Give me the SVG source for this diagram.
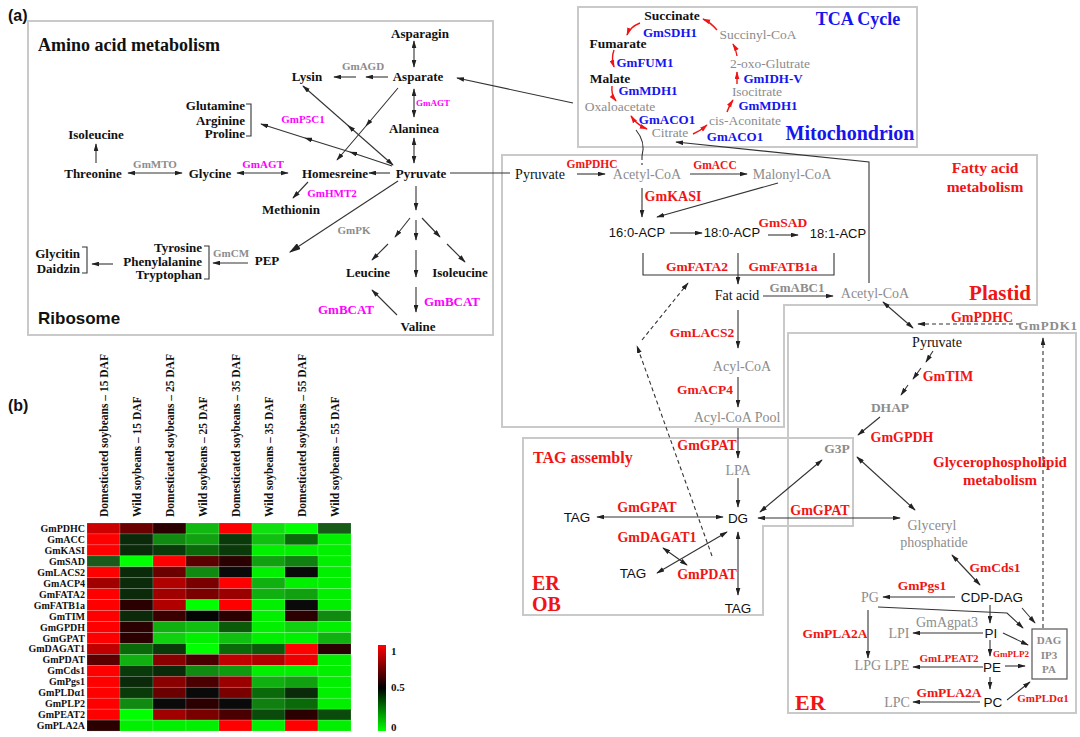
<svg xmlns="http://www.w3.org/2000/svg" width="1080" height="737" viewBox="0 0 1080 737">
<style>
.box{fill:none;stroke:#c9c9c9;stroke-width:2}
text{font-family:"Liberation Serif","Times New Roman",serif}
.sb{font-weight:bold}
.ss{font-family:"Liberation Sans",Arial,sans-serif}
.c{text-anchor:middle}
.e{text-anchor:end}
.k{fill:#111}
.g{fill:#8c8c8c}
.m{fill:#ff00ff}
.b{fill:#1515ee}
.r{fill:#f01414}
.f11{font-size:11px}.f9{font-size:9px}.f13{font-size:13px}.f135{font-size:13.5px}.f14{font-size:14px}
.ln{stroke:#333;stroke-width:1.1;fill:none}
.rl{stroke:#f01414;stroke-width:1.4;fill:none}
.ds{stroke-dasharray:4 3}
.hm rect{stroke:#ffffff;stroke-opacity:0.25;stroke-width:0.6}
.hl{font-weight:bold;font-size:10px;text-anchor:end;fill:#111}
.cl{font-weight:bold;font-size:11.5px;fill:#111}
</style>
<defs>
<marker id="ah" viewBox="0 0 10 6" refX="9" refY="3" markerWidth="8" markerHeight="5" markerUnits="userSpaceOnUse" orient="auto-start-reverse"><path d="M0,0L10,3L0,6z" fill="#222"/></marker>
<marker id="ahL" viewBox="0 0 10 6" refX="9" refY="3" markerWidth="12" markerHeight="7" markerUnits="userSpaceOnUse" orient="auto"><path d="M0,0L10,3L0,6z" fill="#222"/></marker>
<marker id="rh" viewBox="0 0 10 6" refX="9" refY="3" markerWidth="8" markerHeight="5" markerUnits="userSpaceOnUse" orient="auto-start-reverse"><path d="M0,0L10,3L0,6z" fill="#f01414"/></marker>
<linearGradient id="cb" x1="0" y1="0" x2="0" y2="1"><stop offset="0" stop-color="#ff0000"/><stop offset="0.5" stop-color="#000000"/><stop offset="1" stop-color="#00ff00"/></linearGradient>
</defs>
<rect width="1080" height="737" fill="#ffffff"/>

<g id="compartments">
<rect class="box" x="28" y="21" width="465" height="314"/>
<rect class="box" x="578" y="7" width="339" height="140"/>
<polygon class="box" points="502,155 1037,155 1037,305 784,305 784,427 502,427"/>
<rect class="box" x="788" y="333" width="288" height="380"/>
<polygon class="box" points="523,438 853,438 853,526 763,526 763,615 523,615"/>
</g>

<g id="titles">
<text x="8" y="21" class="ss sb" font-size="16" fill="#111">(a)</text>
<text x="8" y="411" class="ss sb" font-size="16" fill="#111">(b)</text>
<text x="38" y="51" class="sb k" font-size="18">Amino acid metabolism</text>
<text x="38" y="324" class="ss sb k" font-size="17">Ribosome</text>
<text x="858" y="25" class="sb b c" font-size="18">TCA Cycle</text>
<text x="850" y="140" class="sb b c" font-size="20">Mitochondrion</text>
<text x="985" y="173" class="sb r c" font-size="15.5">Fatty acid</text>
<text x="985" y="192" class="sb r c" font-size="15.5">metabolism</text>
<text x="1000" y="300" class="sb r c" font-size="21">Plastid</text>
<text x="533" y="463" class="sb r" font-size="16">TAG assembly</text>
<text x="532" y="590" class="sb r" font-size="20">ER</text>
<text x="532" y="611" class="sb r" font-size="20">OB</text>
<text x="1000" y="467" class="sb r c" font-size="15">Glycerophospholipid</text>
<text x="1000" y="485" class="sb r c" font-size="15">metabolism</text>
<text x="795" y="710" class="sb r" font-size="22">ER</text>
</g>

<g id="connectors">
<!-- amino acid -->
<path class="ln" d="M388,77L366,77" marker-end="url(#ah)"/>
<path class="ln" d="M356,77L334,77" marker-end="url(#ah)"/>
<path class="ln" d="M414,41L414,67" marker-start="url(#ah)" marker-end="url(#ah)"/>
<path class="ln" d="M414,89L414,117" marker-start="url(#ah)" marker-end="url(#ah)"/>
<path class="ln" d="M414,138L414,163" marker-start="url(#ah)" marker-end="url(#ah)"/>
<polyline class="ln" points="393,165 348,125.5 303,86" marker-start="url(#ah)" marker-mid="url(#ah)" marker-end="url(#ah)"/>
<polyline class="ln" points="398,88 366,126 337,160" marker-mid="url(#ah)" marker-end="url(#ah)"/>
<polyline class="ln" points="392,166 350,152 305,138 261,124" marker-mid="url(#ah)" marker-end="url(#ah)"/>
<path class="ln" d="M96,163L96,144" marker-end="url(#ah)"/>
<path class="ln" d="M128,173L182,173" marker-start="url(#ah)" marker-end="url(#ah)"/>
<path class="ln" d="M237,173L288,173" marker-start="url(#ah)" marker-end="url(#ah)"/>
<path class="ln" d="M390,173L369,173" marker-end="url(#ah)"/>
<path class="ln" d="M308,182L293,198" marker-end="url(#ah)"/>
<path class="ln" d="M398,181L290,252" marker-end="url(#ahL)"/>
<path class="ln" d="M248,263L213,263" marker-end="url(#ah)"/>
<path class="ln" d="M113,264L92,264" marker-end="url(#ah)"/>
<path class="ln" d="M246,104L251,104L251,136L246,136"/>
<path class="ln" d="M204,246L209,246L209,279L204,279"/>
<path class="ln" d="M82,247L87,247L87,273L82,273"/>
<path class="ln" d="M416,186L416,210" marker-end="url(#ah)"/>
<path class="ln" d="M410,218L395,237" marker-end="url(#ah)"/>
<path class="ln" d="M388,244L372,260" marker-end="url(#ah)"/>
<path class="ln" d="M416,220L416,240" marker-end="url(#ah)"/>
<path class="ln" d="M416,250L416,277" marker-end="url(#ah)"/>
<path class="ln" d="M416,287L416,312" marker-end="url(#ah)"/>
<path class="ln" d="M422,218L440,237" marker-end="url(#ah)"/>
<path class="ln" d="M447,244L465,262" marker-end="url(#ah)"/>
<path class="ln" d="M397,315L372,290" marker-end="url(#ah)"/>
<path class="ln" d="M573,103L457,78" marker-end="url(#ah)"/>
<path class="ln" d="M450,173L510,173"/>
<!-- TCA -->
<path class="rl" d="M640,23Q630,27 627,35" marker-end="url(#rh)"/>
<path class="rl" d="M717,30Q710,22 703,19" marker-end="url(#rh)"/>
<path class="rl" d="M614,50Q611,58 614,67" marker-end="url(#rh)"/>
<path class="rl" d="M737,56Q736,49 733,44" marker-end="url(#rh)"/>
<path class="rl" d="M612,86Q611,95 616,101" marker-end="url(#rh)"/>
<path class="rl" d="M737,84L737,72" marker-end="url(#rh)"/>
<path class="rl" d="M727,112Q729,106 733,100" marker-end="url(#rh)"/>
<path class="rl" d="M693,134Q700,131 707,125" marker-end="url(#rh)"/>
<path class="rl" d="M631,116Q637,125 647,129" marker-start="url(#rh)" marker-end="url(#rh)"/>
<path class="ln" d="M636,130Q646,142 642,156"/>
<path class="ln ds" d="M642,156L642,165"/>
<path class="ln" d="M869,283L869,162L676,142" marker-end="url(#ah)"/>
<!-- fatty acid -->
<path class="ln" d="M577,174L605,174" marker-end="url(#ah)"/>
<path class="ln" d="M690,174L747,174" marker-end="url(#ah)"/>
<path class="ln" d="M642,188L642,217" marker-end="url(#ah)"/>
<path class="ln" d="M778,183L657,217" marker-end="url(#ah)"/>
<path class="ln" d="M670,233L702,233" marker-end="url(#ah)"/>
<path class="ln" d="M768,235L798,235" marker-end="url(#ah)"/>
<path class="ln" d="M643,253L643,275L834,275L834,253"/>
<path class="ln" d="M738,253L738,284" marker-end="url(#ah)"/>
<path class="ln" d="M763,296L833,296" marker-end="url(#ah)"/>
<path class="ln" d="M738,310L738,348" marker-end="url(#ah)"/>
<path class="ln" d="M738,377L738,407" marker-end="url(#ah)"/>
<path class="ln ds" d="M712,556L637,346" marker-end="url(#ah)"/>
<path class="ln ds" d="M642,340L688,283" marker-end="url(#ah)"/>
<path class="ln" d="M738,428L738,458" marker-end="url(#ah)"/>
<!-- right -->
<path class="ln" d="M883,302L913,328" marker-start="url(#ah)" marker-end="url(#ah)"/>
<path class="ln ds" d="M1020,324L918,324" marker-end="url(#ah)"/>
<path class="ln ds" d="M1043,628L1043,338" marker-end="url(#ah)"/>
<path class="ln" d="M933,351L926,362" marker-end="url(#ah)"/>
<path class="ln" d="M921,368L913,379" marker-end="url(#ah)"/>
<path class="ln" d="M908,385L901,395" marker-end="url(#ah)"/>
<path class="ln" d="M880,417L858,435" marker-end="url(#ah)"/>
<path class="ln" d="M822,460L760,512" marker-start="url(#ah)" marker-end="url(#ah)"/>
<path class="ln" d="M857,457L915,510" marker-start="url(#ah)" marker-end="url(#ah)"/>
<path class="ln" d="M758,518L900,518" marker-start="url(#ah)" marker-end="url(#ah)"/>
<!-- TAG -->
<path class="ln" d="M738,478L738,507" marker-end="url(#ah)"/>
<path class="ln" d="M597,517L723,517" marker-start="url(#ah)" marker-end="url(#ah)"/>
<path class="ln" d="M727,532L657,573" marker-start="url(#ah)" marker-end="url(#ah)"/>
<path class="ln" d="M663,548L687,565" marker-start="url(#ah)" marker-end="url(#ah)"/>
<path class="ln" d="M738,532L738,595" marker-start="url(#ah)" marker-end="url(#ah)"/>
<!-- glycerophospholipid -->
<path class="ln" d="M952,555L980,585" marker-start="url(#ah)" marker-end="url(#ah)"/>
<path class="ln" d="M955,597L883,597" marker-end="url(#ah)"/>
<path class="ln" d="M878,607L1007,613L1023,628" marker-end="url(#ah)"/>
<path class="ln" d="M1022,608L1035,623" marker-end="url(#ah)"/>
<path class="ln" d="M990,605L990,623" marker-end="url(#ah)"/>
<path class="ln" d="M983,633L913,633" marker-end="url(#ah)"/>
<path class="ln" d="M868,610L868,658" marker-end="url(#ah)"/>
<path class="ln" d="M1003,633L1028,645" marker-end="url(#ah)"/>
<path class="ln" d="M990,640L990,656" marker-end="url(#ah)"/>
<path class="ln" d="M983,667L913,667" marker-end="url(#ah)"/>
<path class="ln" d="M1005,666L1025,666" marker-end="url(#ah)"/>
<path class="ln" d="M990,677L990,689" marker-end="url(#ah)"/>
<path class="ln" d="M980,702L913,702" marker-end="url(#ah)"/>
<path class="ln" d="M1007,700L1030,682" marker-end="url(#ah)"/>
</g>

<g id="amino-nodes" class="sb k f13 c">
<g id="n-asparagin"><text x="420" y="38">Asparagin</text></g>
<g id="n-asparate"><text x="418" y="81">Asparate</text></g>
<g id="n-lysin"><text x="307" y="81">Lysin</text></g>
<g id="n-alaninea"><text x="414" y="133">Alaninea</text></g>
<g id="n-pyruvate-aa"><text x="421" y="178">Pyruvate</text></g>
<g id="n-glu-arg-pro" class="e"><text x="245" y="110">Glutamine</text><text x="245" y="125">Arginine</text><text x="245" y="138">Proline</text></g>
<g id="n-isoleucine1"><text x="96" y="139">Isoleucine</text></g>
<g id="n-threonine"><text x="93" y="178">Threonine</text></g>
<g id="n-glycine"><text x="210" y="178">Glycine</text></g>
<g id="n-homesreine"><text x="335" y="178">Homesreine</text></g>
<g id="n-methionin"><text x="291" y="214">Methionin</text></g>
<g id="n-pep"><text x="267" y="265">PEP</text></g>
<g id="n-aromatic" class="e"><text x="202" y="252">Tyrosine</text><text x="202" y="266">Phenylalanine</text><text x="202" y="279">Tryptophan</text></g>
<g id="n-isoflavone" class="e"><text x="80" y="258">Glycitin</text><text x="80" y="273">Daidzin</text></g>
<g id="n-leucine"><text x="368" y="277">Leucine</text></g>
<g id="n-isoleucine2"><text x="460" y="277">Isoleucine</text></g>
<g id="n-valine"><text x="418" y="331">Valine</text></g>
</g>
<g id="amino-genes" class="sb c">
<g id="e-gmagd"><text x="363" y="70" class="g f11">GmAGD</text></g>
<g id="e-gmagt1"><text x="433" y="106" class="m f9">GmAGT</text></g>
<g id="e-gmp5c1"><text x="303" y="123" class="m f11">GmP5C1</text></g>
<g id="e-gmmto"><text x="155" y="168" class="g f11">GmMTO</text></g>
<g id="e-gmagt2"><text x="263" y="168" class="m f11">GmAGT</text></g>
<g id="e-gmhmt2"><text x="332" y="197" class="m f11">GmHMT2</text></g>
<g id="e-gmpk"><text x="354" y="234" class="g f11">GmPK</text></g>
<g id="e-gmcm"><text x="231" y="257" class="g f11">GmCM</text></g>
<g id="e-gmbcat1"><text x="452" y="306" class="m f13">GmBCAT</text></g>
<g id="e-gmbcat2"><text x="346" y="314" class="m f13">GmBCAT</text></g>
</g>

<g id="tca-nodes" class="c">
<g id="n-succinate"><text x="672" y="20" class="sb k f135">Succinate</text></g>
<g id="n-succinylcoa"><text x="758" y="39" class="g f135">Succinyl-CoA</text></g>
<g id="n-fumarate"><text x="618" y="48" class="sb k f135">Fumarate</text></g>
<g id="n-oxoglutrate"><text x="770" y="68" class="g f135">2-oxo-Glutrate</text></g>
<g id="n-malate"><text x="610" y="83" class="sb k f135">Malate</text></g>
<g id="n-isocitrate"><text x="757" y="96" class="g f135">Isocitrate</text></g>
<g id="n-oxaloacetate"><text x="620" y="111" class="g f135">Oxaloacetate</text></g>
<g id="n-cisaconitate"><text x="745" y="125" class="g f135">cis-Aconitate</text></g>
<g id="n-citrate"><text x="670" y="137" class="g f135">Citrate</text></g>
<g id="e-gmsdh1"><text x="670" y="37" class="sb b f13">GmSDH1</text></g>
<g id="e-gmfum1"><text x="645" y="67" class="sb b f13">GmFUM1</text></g>
<g id="e-gmidhv"><text x="773" y="83" class="sb b f13">GmIDH-V</text></g>
<g id="e-gmmdh1a"><text x="648" y="95" class="sb b f13">GmMDH1</text></g>
<g id="e-gmmdh1b"><text x="768" y="110" class="sb b f13">GmMDH1</text></g>
<g id="e-gmaco1a"><text x="667" y="124" class="sb b f13">GmACO1</text></g>
<g id="e-gmaco1b"><text x="735" y="141" class="sb b f13">GmACO1</text></g>
</g>

<g id="fatty-nodes" class="c">
<g id="n-pyruvate-pl"><text x="540" y="179" class="k f14">Pyruvate</text></g>
<g id="n-acetylcoa1"><text x="647" y="179" class="g f14">Acetyl-CoA</text></g>
<g id="n-malonylcoa"><text x="792" y="179" class="g f14">Malonyl-CoA</text></g>
<g id="n-160acp"><text x="637" y="237" class="ss k f13">16:0-ACP</text></g>
<g id="n-180acp"><text x="732" y="237" class="ss k f13">18:0-ACP</text></g>
<g id="n-181acp"><text x="838" y="238" class="ss k f13">18:1-ACP</text></g>
<g id="n-fatacid"><text x="737" y="300" class="k f14">Fat acid</text></g>
<g id="n-acetylcoa2"><text x="875" y="298" class="g f14">Acetyl-CoA</text></g>
<g id="n-acylcoa"><text x="742" y="371" class="g f14">Acyl-CoA</text></g>
<g id="n-acylcoapool"><text x="737" y="422" class="g f14">Acyl-CoA Pool</text></g>
<g id="e-gmpdhc1"><text x="592" y="168" class="sb r" font-size="11.5">GmPDHC</text></g>
<g id="e-gmacc"><text x="715" y="169" class="sb r" font-size="11.5">GmACC</text></g>
<g id="e-gmkasi"><text x="673" y="201" class="sb r f14">GmKASI</text></g>
<g id="e-gmsad"><text x="783" y="227" class="sb r f135">GmSAD</text></g>
<g id="e-gmfata2"><text x="697" y="271" class="sb r f135">GmFATA2</text></g>
<g id="e-gmfatb1a"><text x="783" y="271" class="sb r f135">GmFATB1a</text></g>
<g id="e-gmabc1"><text x="797" y="292" class="sb g f13">GmABC1</text></g>
<g id="e-gmlacs2"><text x="702" y="337" class="sb r f135">GmLACS2</text></g>
<g id="e-gmacp4"><text x="705" y="394" class="sb r f135">GmACP4</text></g>
</g>

<g id="glycolysis-nodes" class="c">
<g id="n-pyruvate-er"><text x="937" y="347" class="k f14">Pyruvate</text></g>
<g id="n-dhap"><text x="890" y="412" class="sb g f135">DHAP</text></g>
<g id="n-g3p"><text x="837" y="453" class="sb g f135">G3P</text></g>
<g id="e-gmpdhc2"><text x="982" y="322" class="sb r f14">GmPDHC</text></g>
<g id="e-gmpdk1"><text x="1048" y="330" class="sb g f13" letter-spacing="0.8">GmPDK1</text></g>
<g id="e-gmtim"><text x="948" y="381" class="sb r f14">GmTIM</text></g>
<g id="e-gmgpdh"><text x="902" y="442" class="sb r f14">GmGPDH</text></g>
<g id="e-gmgpat3"><text x="820" y="515" class="sb r f14">GmGPAT</text></g>
</g>

<g id="tag-nodes" class="c">
<g id="n-lpa"><text x="738" y="475" class="g f14">LPA</text></g>
<g id="n-dg"><text x="738" y="523" class="ss k f135">DG</text></g>
<g id="n-tag1"><text x="577" y="522" class="ss k f135">TAG</text></g>
<g id="n-tag2"><text x="633" y="578" class="ss k f135">TAG</text></g>
<g id="n-tag3"><text x="738" y="613" class="ss k f135">TAG</text></g>
<g id="e-gmgpat1"><text x="707" y="450" class="sb r f14">GmGPAT</text></g>
<g id="e-gmgpat2"><text x="647" y="512" class="sb r f14">GmGPAT</text></g>
<g id="e-gmdagat1"><text x="657" y="542" class="sb r f14">GmDAGAT1</text></g>
<g id="e-gmpdat"><text x="707" y="579" class="sb r f14">GmPDAT</text></g>
</g>

<g id="phospholipid-nodes" class="c">
<g id="n-glyceryl"><text x="932" y="530" class="g f14">Glyceryl</text><text x="934" y="547" class="g f14">phosphatide</text></g>
<g id="n-cdpdag"><text x="992" y="602" class="ss k f135">CDP-DAG</text></g>
<g id="n-pg"><text x="870" y="602" class="g f14">PG</text></g>
<g id="n-pi"><text x="991" y="638" class="ss k f135">PI</text></g>
<g id="n-lpi"><text x="899" y="638" class="g f14">LPI</text></g>
<g id="n-lpglpe"><text x="882" y="670" class="g f14">LPG LPE</text></g>
<g id="n-pe"><text x="992" y="672" class="ss k f135">PE</text></g>
<g id="n-pc"><text x="993" y="707" class="ss k f135">PC</text></g>
<g id="n-lpc"><text x="897" y="707" class="g f14">LPC</text></g>
<g id="n-dagbox"><rect x="1032" y="629" width="35" height="50" fill="none" stroke="#555" stroke-width="1.2"/><text x="1049" y="644" class="sb g f11">DAG</text><text x="1049" y="659" class="sb g f11">IP3</text><text x="1049" y="673" class="sb g f11">PA</text></g>
<g id="e-gmcds1"><text x="995" y="572" class="sb r f135">GmCds1</text></g>
<g id="e-gmpgs1"><text x="922" y="590" class="sb r f135">GmPgs1</text></g>
<g id="e-gmagpat3"><text x="947" y="627" class="g f14">GmAgpat3</text></g>
<g id="e-gmpla2a1"><text x="835" y="638" class="sb r f135">GmPLA2A</text></g>
<g id="e-gmplp2"><text x="1011" y="657" class="sb r f9">GmPLP2</text></g>
<g id="e-gmlpeat2"><text x="949" y="662" class="sb r f11">GmLPEAT2</text></g>
<g id="e-gmpla2a2"><text x="949" y="697" class="sb r f135">GmPLA2A</text></g>
<g id="e-gmplda1"><text x="1043" y="702" class="sb r f11">GmPLDα1</text></g>
</g>

<g id="heatmap">
<g id="col-labels" class="cl">
<text transform="translate(107.5,517) rotate(-90)">Domesticated soybeans – 15 DAF</text>
<text transform="translate(140.5,517) rotate(-90)">Wild soybeans – 15 DAF</text>
<text transform="translate(173.5,517) rotate(-90)">Domesticated soybeans – 25 DAF</text>
<text transform="translate(206.5,517) rotate(-90)">Wild soybeans – 25 DAF</text>
<text transform="translate(239.5,517) rotate(-90)">Domesticated soybeans – 35 DAF</text>
<text transform="translate(272.5,517) rotate(-90)">Wild soybeans – 35 DAF</text>
<text transform="translate(305.5,517) rotate(-90)">Domesticated soybeans – 55 DAF</text>
<text transform="translate(338.5,517) rotate(-90)">Wild soybeans – 55 DAF</text>
</g>
<g id="row-labels">
<text x="85" y="532" class="hl">GmPDHC</text>
<text x="85" y="543" class="hl">GmACC</text>
<text x="85" y="554" class="hl">GmKASI</text>
<text x="85" y="565" class="hl">GmSAD</text>
<text x="85" y="576" class="hl">GmLACS2</text>
<text x="85" y="587" class="hl">GmACP4</text>
<text x="85" y="598" class="hl">GmFATA2</text>
<text x="85" y="609" class="hl">GmFATB1a</text>
<text x="85" y="620" class="hl">GmTIM</text>
<text x="85" y="631" class="hl">GmGPDH</text>
<text x="85" y="642" class="hl">GmGPAT</text>
<text x="85" y="652" class="hl">GmDAGAT1</text>
<text x="85" y="663" class="hl">GmPDAT</text>
<text x="85" y="674" class="hl">GmCds1</text>
<text x="85" y="685" class="hl">GmPgs1</text>
<text x="85" y="696" class="hl">GmPLDα1</text>
<text x="85" y="707" class="hl">GmPLP2</text>
<text x="85" y="718" class="hl">GmPEAT2</text>
<text x="85" y="729" class="hl">GmPLA2A</text>
</g>
<g id="cells" class="hm">
<rect x="87" y="523" width="33" height="10.95" fill="#cc0000"/><rect x="120" y="523" width="33" height="10.95" fill="#6b0000"/><rect x="153" y="523" width="33" height="10.95" fill="#2a0000"/><rect x="186" y="523" width="33" height="10.95" fill="#12b812"/><rect x="219" y="523" width="33" height="10.95" fill="#ff0000"/><rect x="252" y="523" width="33" height="10.95" fill="#10e010"/><rect x="285" y="523" width="33" height="10.95" fill="#00ff00"/><rect x="318" y="523" width="33" height="10.95" fill="#185a18"/>
<rect x="87" y="533.95" width="33" height="10.95" fill="#ff0000"/><rect x="120" y="533.95" width="33" height="10.95" fill="#0a2a0a"/><rect x="153" y="533.95" width="33" height="10.95" fill="#108a10"/><rect x="186" y="533.95" width="33" height="10.95" fill="#10a010"/><rect x="219" y="533.95" width="33" height="10.95" fill="#0a3a0a"/><rect x="252" y="533.95" width="33" height="10.95" fill="#10c010"/><rect x="285" y="533.95" width="33" height="10.95" fill="#0a6a0a"/><rect x="318" y="533.95" width="33" height="10.95" fill="#00f000"/>
<rect x="87" y="544.9" width="33" height="10.95" fill="#ff0000"/><rect x="120" y="544.9" width="33" height="10.95" fill="#0a2a0a"/><rect x="153" y="544.9" width="33" height="10.95" fill="#0a3a0a"/><rect x="186" y="544.9" width="33" height="10.95" fill="#0a6a0a"/><rect x="219" y="544.9" width="33" height="10.95" fill="#0a3a0a"/><rect x="252" y="544.9" width="33" height="10.95" fill="#00f000"/><rect x="285" y="544.9" width="33" height="10.95" fill="#00f000"/><rect x="318" y="544.9" width="33" height="10.95" fill="#00f000"/>
<rect x="87" y="555.85" width="33" height="10.95" fill="#1a5a1a"/><rect x="120" y="555.85" width="33" height="10.95" fill="#00ff00"/><rect x="153" y="555.85" width="33" height="10.95" fill="#ff0000"/><rect x="186" y="555.85" width="33" height="10.95" fill="#5a0000"/><rect x="219" y="555.85" width="33" height="10.95" fill="#2a0000"/><rect x="252" y="555.85" width="33" height="10.95" fill="#10a010"/><rect x="285" y="555.85" width="33" height="10.95" fill="#108010"/><rect x="318" y="555.85" width="33" height="10.95" fill="#00f000"/>
<rect x="87" y="566.8" width="33" height="10.95" fill="#ff0000"/><rect x="120" y="566.8" width="33" height="10.95" fill="#0a2a0a"/><rect x="153" y="566.8" width="33" height="10.95" fill="#6b0000"/><rect x="186" y="566.8" width="33" height="10.95" fill="#108a10"/><rect x="219" y="566.8" width="33" height="10.95" fill="#0a0a0a"/><rect x="252" y="566.8" width="33" height="10.95" fill="#00f000"/><rect x="285" y="566.8" width="33" height="10.95" fill="#0a0a0a"/><rect x="318" y="566.8" width="33" height="10.95" fill="#00f000"/>
<rect x="87" y="577.75" width="33" height="10.95" fill="#a00000"/><rect x="120" y="577.75" width="33" height="10.95" fill="#0a2a0a"/><rect x="153" y="577.75" width="33" height="10.95" fill="#b00000"/><rect x="186" y="577.75" width="33" height="10.95" fill="#7a0000"/><rect x="219" y="577.75" width="33" height="10.95" fill="#ff0000"/><rect x="252" y="577.75" width="33" height="10.95" fill="#10b010"/><rect x="285" y="577.75" width="33" height="10.95" fill="#00f000"/><rect x="318" y="577.75" width="33" height="10.95" fill="#00f000"/>
<rect x="87" y="588.7" width="33" height="10.95" fill="#ff0000"/><rect x="120" y="588.7" width="33" height="10.95" fill="#0a2a0a"/><rect x="153" y="588.7" width="33" height="10.95" fill="#a00000"/><rect x="186" y="588.7" width="33" height="10.95" fill="#7a0000"/><rect x="219" y="588.7" width="33" height="10.95" fill="#9a0000"/><rect x="252" y="588.7" width="33" height="10.95" fill="#10b010"/><rect x="285" y="588.7" width="33" height="10.95" fill="#10a010"/><rect x="318" y="588.7" width="33" height="10.95" fill="#00f000"/>
<rect x="87" y="599.65" width="33" height="10.95" fill="#ff0000"/><rect x="120" y="599.65" width="33" height="10.95" fill="#2a0000"/><rect x="153" y="599.65" width="33" height="10.95" fill="#b00000"/><rect x="186" y="599.65" width="33" height="10.95" fill="#00ff00"/><rect x="219" y="599.65" width="33" height="10.95" fill="#ff0000"/><rect x="252" y="599.65" width="33" height="10.95" fill="#00f000"/><rect x="285" y="599.65" width="33" height="10.95" fill="#0a0a0a"/><rect x="318" y="599.65" width="33" height="10.95" fill="#00f000"/>
<rect x="87" y="610.6" width="33" height="10.95" fill="#ff0000"/><rect x="120" y="610.6" width="33" height="10.95" fill="#0a2a0a"/><rect x="153" y="610.6" width="33" height="10.95" fill="#3a0000"/><rect x="186" y="610.6" width="33" height="10.95" fill="#050505"/><rect x="219" y="610.6" width="33" height="10.95" fill="#2a0000"/><rect x="252" y="610.6" width="33" height="10.95" fill="#00f000"/><rect x="285" y="610.6" width="33" height="10.95" fill="#2a0000"/><rect x="318" y="610.6" width="33" height="10.95" fill="#108a10"/>
<rect x="87" y="621.55" width="33" height="10.95" fill="#ff0000"/><rect x="120" y="621.55" width="33" height="10.95" fill="#2a0000"/><rect x="153" y="621.55" width="33" height="10.95" fill="#10b010"/><rect x="186" y="621.55" width="33" height="10.95" fill="#10c010"/><rect x="219" y="621.55" width="33" height="10.95" fill="#0a5a0a"/><rect x="252" y="621.55" width="33" height="10.95" fill="#00f000"/><rect x="285" y="621.55" width="33" height="10.95" fill="#10d010"/><rect x="318" y="621.55" width="33" height="10.95" fill="#00f000"/>
<rect x="87" y="632.5" width="33" height="10.95" fill="#ff0000"/><rect x="120" y="632.5" width="33" height="10.95" fill="#2a0000"/><rect x="153" y="632.5" width="33" height="10.95" fill="#10d010"/><rect x="186" y="632.5" width="33" height="10.95" fill="#00f000"/><rect x="219" y="632.5" width="33" height="10.95" fill="#10c010"/><rect x="252" y="632.5" width="33" height="10.95" fill="#00f000"/><rect x="285" y="632.5" width="33" height="10.95" fill="#00f000"/><rect x="318" y="632.5" width="33" height="10.95" fill="#10b010"/>
<rect x="87" y="643.45" width="33" height="10.95" fill="#c00000"/><rect x="120" y="643.45" width="33" height="10.95" fill="#0a6a0a"/><rect x="153" y="643.45" width="33" height="10.95" fill="#0a3a0a"/><rect x="186" y="643.45" width="33" height="10.95" fill="#00ff00"/><rect x="219" y="643.45" width="33" height="10.95" fill="#0a6a0a"/><rect x="252" y="643.45" width="33" height="10.95" fill="#0a5a0a"/><rect x="285" y="643.45" width="33" height="10.95" fill="#ff0000"/><rect x="318" y="643.45" width="33" height="10.95" fill="#2a0000"/>
<rect x="87" y="654.4" width="33" height="10.95" fill="#5a0000"/><rect x="120" y="654.4" width="33" height="10.95" fill="#10b010"/><rect x="153" y="654.4" width="33" height="10.95" fill="#8a0000"/><rect x="186" y="654.4" width="33" height="10.95" fill="#4a0000"/><rect x="219" y="654.4" width="33" height="10.95" fill="#c00000"/><rect x="252" y="654.4" width="33" height="10.95" fill="#b00000"/><rect x="285" y="654.4" width="33" height="10.95" fill="#ee0000"/><rect x="318" y="654.4" width="33" height="10.95" fill="#00f000"/>
<rect x="87" y="665.35" width="33" height="10.95" fill="#ff0000"/><rect x="120" y="665.35" width="33" height="10.95" fill="#0a3a0a"/><rect x="153" y="665.35" width="33" height="10.95" fill="#0a2a0a"/><rect x="186" y="665.35" width="33" height="10.95" fill="#108a10"/><rect x="219" y="665.35" width="33" height="10.95" fill="#109a10"/><rect x="252" y="665.35" width="33" height="10.95" fill="#00f000"/><rect x="285" y="665.35" width="33" height="10.95" fill="#00f000"/><rect x="318" y="665.35" width="33" height="10.95" fill="#00f000"/>
<rect x="87" y="676.3" width="33" height="10.95" fill="#ff0000"/><rect x="120" y="676.3" width="33" height="10.95" fill="#0a2a0a"/><rect x="153" y="676.3" width="33" height="10.95" fill="#8a0000"/><rect x="186" y="676.3" width="33" height="10.95" fill="#4a0000"/><rect x="219" y="676.3" width="33" height="10.95" fill="#9a0000"/><rect x="252" y="676.3" width="33" height="10.95" fill="#10b010"/><rect x="285" y="676.3" width="33" height="10.95" fill="#10a010"/><rect x="318" y="676.3" width="33" height="10.95" fill="#00f000"/>
<rect x="87" y="687.25" width="33" height="10.95" fill="#ff0000"/><rect x="120" y="687.25" width="33" height="10.95" fill="#0a3a0a"/><rect x="153" y="687.25" width="33" height="10.95" fill="#6a0000"/><rect x="186" y="687.25" width="33" height="10.95" fill="#0a0a0a"/><rect x="219" y="687.25" width="33" height="10.95" fill="#7a0000"/><rect x="252" y="687.25" width="33" height="10.95" fill="#0a6a0a"/><rect x="285" y="687.25" width="33" height="10.95" fill="#0a2a0a"/><rect x="318" y="687.25" width="33" height="10.95" fill="#00f000"/>
<rect x="87" y="698.2" width="33" height="10.95" fill="#ff0000"/><rect x="120" y="698.2" width="33" height="10.95" fill="#108a10"/><rect x="153" y="698.2" width="33" height="10.95" fill="#0a0a0a"/><rect x="186" y="698.2" width="33" height="10.95" fill="#2a0000"/><rect x="219" y="698.2" width="33" height="10.95" fill="#0a0a0a"/><rect x="252" y="698.2" width="33" height="10.95" fill="#108010"/><rect x="285" y="698.2" width="33" height="10.95" fill="#0a6a0a"/><rect x="318" y="698.2" width="33" height="10.95" fill="#00f000"/>
<rect x="87" y="709.15" width="33" height="10.95" fill="#ff0000"/><rect x="120" y="709.15" width="33" height="10.95" fill="#00ff00"/><rect x="153" y="709.15" width="33" height="10.95" fill="#a00000"/><rect x="186" y="709.15" width="33" height="10.95" fill="#7a0000"/><rect x="219" y="709.15" width="33" height="10.95" fill="#4a0000"/><rect x="252" y="709.15" width="33" height="10.95" fill="#0a4a0a"/><rect x="285" y="709.15" width="33" height="10.95" fill="#2a0000"/><rect x="318" y="709.15" width="33" height="10.95" fill="#0a4a0a"/>
<rect x="87" y="720.1" width="33" height="10.95" fill="#2a0000"/><rect x="120" y="720.1" width="33" height="10.95" fill="#00f000"/><rect x="153" y="720.1" width="33" height="10.95" fill="#00f000"/><rect x="186" y="720.1" width="33" height="10.95" fill="#00f000"/><rect x="219" y="720.1" width="33" height="10.95" fill="#ff0000"/><rect x="252" y="720.1" width="33" height="10.95" fill="#00f000"/><rect x="285" y="720.1" width="33" height="10.95" fill="#ff0000"/><rect x="318" y="720.1" width="33" height="10.95" fill="#00f000"/>
</g>
<g id="colorbar">
<rect x="378" y="645" width="8" height="86" fill="url(#cb)"/>
<text x="391" y="655" class="sb k f11">1</text>
<text x="391" y="691" class="sb k f11">0.5</text>
<text x="391" y="731" class="sb k f11">0</text>
</g>
</g>
</svg>
